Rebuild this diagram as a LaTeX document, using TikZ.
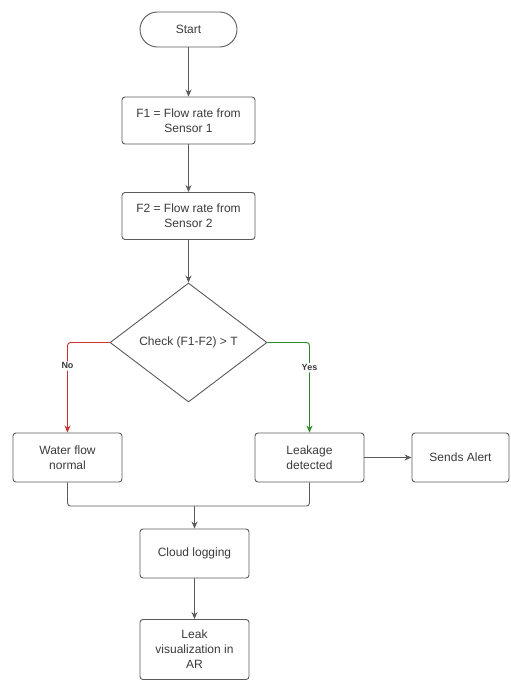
\documentclass[tikz,border=0pt]{standalone}
\usepackage{fontspec}
\setmainfont{Liberation Sans}
\usetikzlibrary{shapes.geometric, arrows.meta}
\definecolor{linegray}{HTML}{5A5A5A}
\definecolor{txtgray}{HTML}{3A3A3A}
\definecolor{noRed}{HTML}{C8322A}
\definecolor{yesGreen}{HTML}{2A8A2A}

\begin{document}
\begin{tikzpicture}[x=1pt, y=-1pt, font=\fontsize{12}{15}\selectfont, align=center, text=txtgray]
	\tikzstyle{box}=[draw=linegray, line width=0.9pt, rounded corners=3pt, minimum width=109pt, minimum height=49pt, inner sep=2pt]
	\tikzstyle{wide}=[box, minimum width=133pt, minimum height=47pt]
	\tikzstyle{flow}=[draw=linegray, line width=0.9pt, rounded corners=3pt, -{Stealth[length=7pt,width=6pt]}]
	\tikzstyle{answer}=[fill=white, font=\fontsize{9}{10}\selectfont\bfseries, inner sep=1.5pt]

	\useasboundingbox (0,0) rectangle (511,680);

	\node[draw=linegray, line width=0.9pt, rounded corners=17.5pt, minimum width=97pt, minimum height=35pt] (start) at (188.5,29.5) {Start};
	\node[wide] (f1) at (188.5,120.5) {F1 = Flow rate from\\Sensor 1};
	\node[wide] (f2) at (188.5,216) {F2 = Flow rate from\\Sensor 2};
	\node[diamond, draw=linegray, line width=0.9pt, aspect=1.32, minimum width=157pt, minimum height=119pt, inner sep=1pt] (check) at (188.5,342.5) {Check (F1-F2) > T};

	\node[box] (normal) at (67.5,457.5) {Water flow\\normal};
	\node[box] (leak) at (309.5,457.5) {Leakage\\detected};
	\node[box, minimum width=97pt] (alert) at (460.5,457.5) {Sends Alert};
	\node[box] (cloud) at (194.5,553.5) {Cloud logging};
	\node[box, minimum height=60pt] (vis) at (194.5,649.5) {Leak\\visualization in\\AR};

	\coordinate (merge) at (194.5,506);

	% main line
	\draw[flow] (start) -- (f1);
	\draw[flow] (f1) -- (f2);
	\draw[flow] (f2) -- (check);
	% decision
	\draw[flow, draw=noRed] (check.west) -| node[answer, pos=0.63, text=txtgray]{No} (normal.north);
	\draw[flow, draw=yesGreen] (check.east) -| node[answer, pos=0.64, text=txtgray]{Yes} (leak.north);
	\draw[flow] (leak) -- (alert);
	% join
	\draw[draw=linegray, line width=0.9pt, rounded corners=3pt] (normal.south) |- (merge) -| (leak.south);
	\draw[flow] (merge) -- (cloud);
	\draw[flow] (cloud) -- (vis);
\end{tikzpicture}
\end{document}
